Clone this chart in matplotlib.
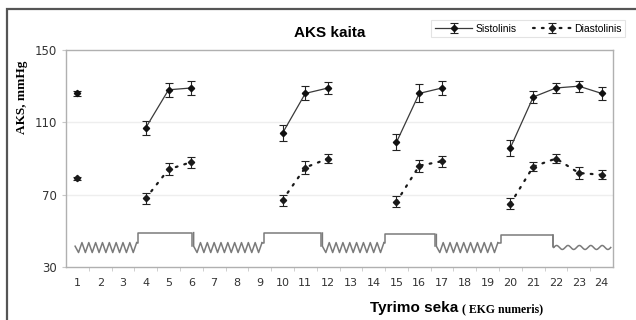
"""Blood pressure (AKS) course over the ECG sequence, with a schematic trace underneath."""

import numpy as np
import matplotlib
matplotlib.use('Agg')
import matplotlib.pyplot as plt
import matplotlib.patches as patches
from matplotlib.ticker import FixedLocator

nan = np.nan

# ─── Measurements (mmHg) per ECG number ───
ekg_no = list(range(1, 25))
sistolinis = [126, nan, nan, 107, 128, 129, nan, nan, nan, 104, 126, 129,
              nan, nan, 99, 126, 129, nan, nan, 96, 124, 129, 130, 126]
sistolinis_err = [1.6, 0, 0, 3.9, 3.9, 3.9, 0, 0, 0, 4.4, 3.9, 3.3,
                  0, 0, 4.4, 5.0, 4.0, 0, 0, 4.4, 3.5, 3.0, 3.0, 3.4]
diastolinis = [79, nan, nan, 68, 84, 88, nan, nan, nan, 67, 85, 90,
               nan, nan, 66, 86, 88.5, nan, nan, 65, 85.5, 90, 82, 81]
diastolinis_err = [1.0, 0, 0, 3.0, 3.3, 3.0, 0, 0, 0, 3.0, 3.4, 2.5,
                   0, 0, 3.0, 3.4, 3.0, 0, 0, 3.0, 2.5, 2.5, 3.3, 2.5]

# ─── Schematic trace: (start, end) in category units ───
zigzag_spans = [(0.9, 3.6), (6.1, 9.15), (11.75, 14.45), (16.75, 19.55)]
plateau_spans = [(3.65, 6.05), (9.2, 11.7), (14.5, 16.7), (19.6, 21.85)]
plateau_levels = [49.0, 48.8, 48.0, 47.5]
wave_span = (21.9, 24.4)

TRACE = '#7a7a7a'


def zigzag(x0, x1, lo=38.0, hi=43.5, period=0.3):
    n = int(round((x1 - x0) / period))
    xs = [x0]
    ys = [41.5]
    for i in range(n):
        xs += [x0 + (i + 0.5) * period, x0 + (i + 1) * period]
        ys += [lo, hi]
    return xs, ys


fig = plt.figure(figsize=(6.36, 3.2), dpi=100)
ax = fig.add_axes([66 / 636, 1 - 267 / 320, (613 - 66) / 636, (267 - 50) / 320])

# outer frame (only top and left edges fall inside the canvas)
fig.add_artist(patches.Rectangle((7 / 636, -0.1), 1.0, 1 - 9 / 320 + 0.1,
                                 transform=fig.transFigure, fill=False,
                                 edgecolor='#555555', linewidth=1.6))

# trace under the data
prev_end = None
for (z0, z1), (p0, p1), lvl in zip(zigzag_spans, plateau_spans, plateau_levels):
    xs, ys = zigzag(z0, z1)
    if prev_end is not None:
        xs = [xs[0]] + xs
        ys = [prev_end] + ys
    ax.plot(xs, ys, color=TRACE, lw=1.1)
    ax.plot([xs[-1], p0, p0, p1, p1], [ys[-1], ys[-1], lvl, lvl, 41.5],
            color=TRACE, lw=1.1)
    prev_end = lvl
wx = np.linspace(wave_span[0], wave_span[1], 200)
wy = 40.8 + 1.1 * np.sin((wx - wave_span[0]) / 0.5 * 2 * np.pi)
ax.plot([wave_span[0] - 0.05, wave_span[0] - 0.05, wave_span[0]],
        [plateau_levels[-1], 40.8, 40.8], color=TRACE, lw=1.1)
ax.plot(wx, wy, color=TRACE, lw=1.1)

# data series
ax.errorbar(ekg_no, sistolinis, yerr=sistolinis_err, color='#3a3a3a', lw=0.9,
            marker='D', ms=3.2, mfc='#111111', mec='#111111', ecolor='#222222',
            capsize=3, capthick=0.8, elinewidth=0.8, label='Sistolinis', zorder=3)
ax.errorbar(ekg_no, diastolinis, yerr=diastolinis_err, color='#1a1a1a', lw=1.6,
            ls=(0, (0.8, 3.2)), dash_capstyle='round', marker='D', ms=3.2,
            ecolor='#222222', capsize=3, capthick=0.8, elinewidth=0.8,
            label='Diastolinis', zorder=3)

ax.set_xlim(0.5, 24.5)
ax.set_ylim(30, 150)
ax.set_yticks([30, 70, 110, 150])
ax.set_xticks(ekg_no)
ax.xaxis.set_minor_locator(FixedLocator(np.arange(1.5, 24, 1)))
ax.tick_params(axis='x', which='major', length=0, pad=8, labelsize=8, labelcolor='#333333')
ax.tick_params(axis='x', which='minor', length=3, color='#c8c8c8')
ax.tick_params(axis='y', length=3, color='#c8c8c8', labelsize=8.5, labelcolor='#333333')
for y in (70, 110):
    ax.axhline(y, color='#eeeeee', lw=1.0, zorder=0)
for s in ax.spines.values():
    s.set_color('#b0b0b0')
    s.set_linewidth(1.0)

fig.text(22 / 636, 1 - 97 / 320, 'AKS, mmHg', family='Liberation Serif',
         fontweight='bold', fontsize=9.5, rotation=90, ha='center', va='center')

fig.text(330 / 636, 1 - 33 / 320, 'AKS kaita', family='Liberation Sans',
         fontweight='bold', fontsize=11, ha='center', va='center')
fig.text(370 / 636, 1 - 312 / 320, 'Tyrimo seka', family='Liberation Sans',
         fontweight='bold', fontsize=11, ha='left', va='baseline')
fig.text(462 / 636, 1 - 312 / 320, '( EKG numeris)', family='Liberation Serif',
         fontweight='bold', fontsize=8.5, ha='left', va='baseline')

leg = ax.legend(loc='upper right', bbox_to_anchor=(625 / 636, 1 - 20 / 320),
                bbox_transform=fig.transFigure, borderaxespad=0, ncol=2,
                frameon=True, fancybox=False, handlelength=3.6, handletextpad=0.3,
                columnspacing=1.6, borderpad=0.35,
                prop={'family': 'Liberation Sans', 'size': 7.5})
leg.get_frame().set_edgecolor('#dddddd')
leg.get_frame().set_linewidth(0.8)

plt.savefig('out.png', dpi=100)
